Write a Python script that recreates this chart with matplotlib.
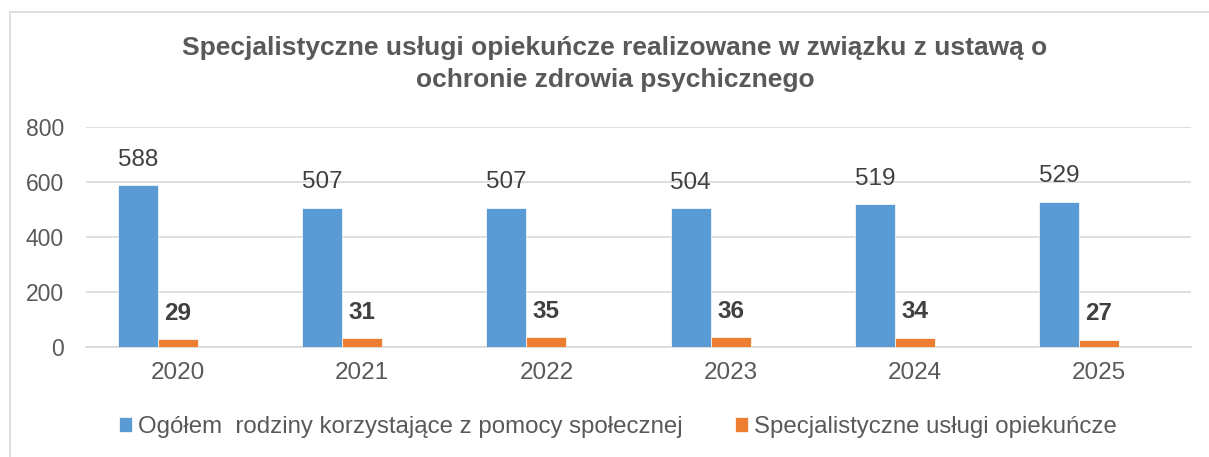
import numpy as np
import matplotlib.pyplot as plt
from matplotlib.patches import Rectangle

plt.rcParams['font.family'] = ['Liberation Sans', 'DejaVu Sans']

years = ['2020', '2021', '2022', '2023', '2024', '2025']
ogolem = [588, 507, 507, 504, 519, 529]
uslugi = [29, 31, 35, 36, 34, 27]
labels = ['Ogółem  rodziny korzystające z pomocy społecznej',
          'Specjalistyczne usługi opiekuńcze']
title = ('Specjalistyczne usługi opiekuńcze realizowane w związku z ustawą o\n'
         'ochronie zdrowia psychicznego')

W, H = 1209, 457
fig = plt.figure(figsize=(W / 100, H / 100), dpi=100)
ax = fig.add_axes([86 / W, 1 - 347 / H, (1191 - 86) / W, (347 - 127) / H])

txt = '#595959'
x = np.arange(len(years))
bw = 40 / 184.2
b1 = ax.bar(x - bw, ogolem, bw, color='#5B9BD5', edgecolor='white', linewidth=0.5, label=labels[0], zorder=3)
b2 = ax.bar(x, uslugi, bw, color='#ED7D31', edgecolor='white', linewidth=0.5, label=labels[1], zorder=3)

for xi, v in zip(x - bw, ogolem):
    ax.annotate(str(v), (xi, v), xytext=(0, 18.5), textcoords='offset points',
                ha='center', va='center', fontsize=17.5, color='#404040')
for xi, v in zip(x, uslugi):
    ax.annotate(str(v), (xi, v), xytext=(0, 18.5), textcoords='offset points',
                ha='center', va='center', fontsize=17.5, color='#404040', fontweight='bold')

ax.set_xlim(-0.5, 5.5)
ax.set_ylim(0, 800)
ax.set_yticks([0, 200, 400, 600, 800])
ax.set_xticks(x)
ax.set_xticklabels(years)
ax.yaxis.grid(True, color='#d9d9d9', linewidth=1.2, zorder=0)
ax.set_axisbelow(True)
for s in ['top', 'right', 'left']:
    ax.spines[s].set_visible(False)
ax.spines['bottom'].set_color('#d9d9d9')
ax.spines['bottom'].set_linewidth(1.2)
ax.tick_params(axis='x', length=0, pad=11, labelsize=17.5, labelcolor=txt)
ax.tick_params(axis='y', length=0, pad=16, labelsize=16.5, labelcolor=txt)

fig.text(615 / W, 1 - 64 / H, title, ha='center', va='center', fontsize=19,
         fontweight='bold', color=txt, linespacing=1.42)

fig.legend(handles=[b1, b2], loc='center', bbox_to_anchor=(618 / W, 1 - 427 / H),
           ncol=2, frameon=False, fontsize=17.3, labelcolor=txt,
           handlelength=0.55, handleheight=0.55, handletextpad=0.25, columnspacing=2.16)

fig.patches.append(Rectangle((10 / W, -0.1), 1.2, (H - 12) / H + 0.1,
                             transform=fig.transFigure, fill=False,
                             edgecolor='#d9d9d9', linewidth=1.2))

fig.savefig('out.png', dpi=100)
